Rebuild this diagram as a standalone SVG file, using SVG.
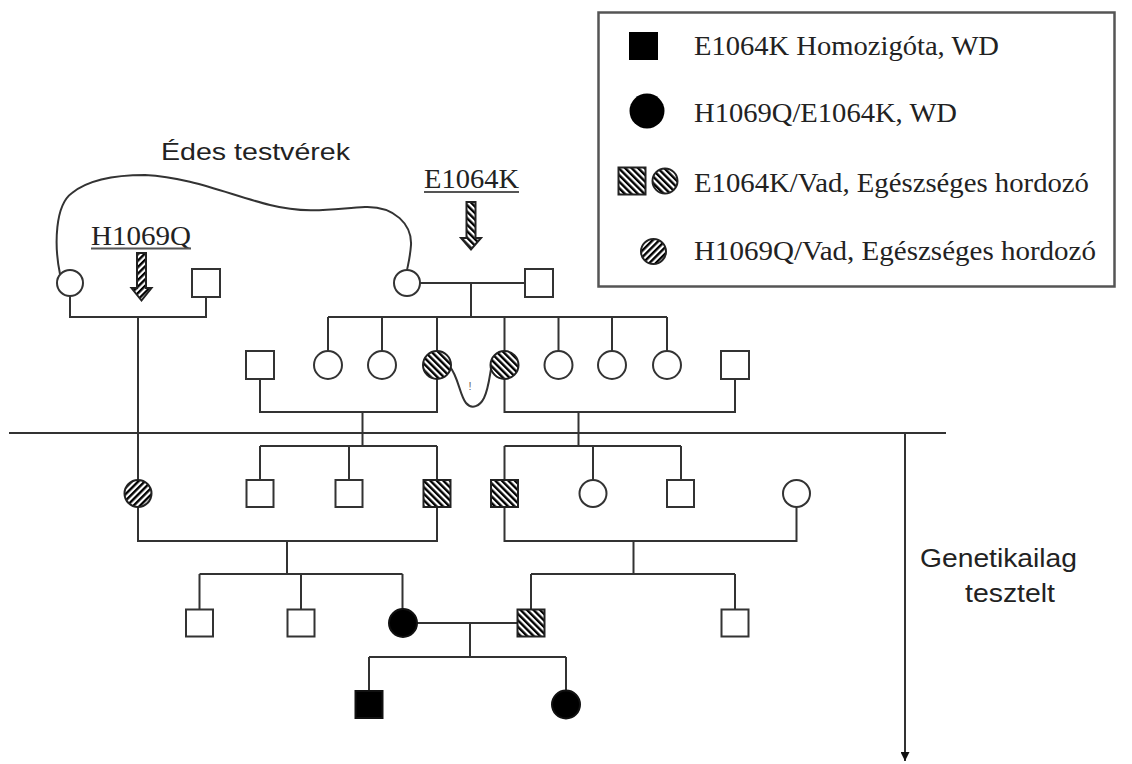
<svg xmlns="http://www.w3.org/2000/svg" width="1132" height="764" viewBox="0 0 1132 764">
<style>
.ln{stroke:#333;stroke-width:2;fill:none}
.sym{stroke:#333;stroke-width:2;fill:#fff}
.blk{stroke:#111;stroke-width:2;fill:#000}
.hb{stroke:#222;stroke-width:2;fill:url(#hb)}
.hf{stroke:#222;stroke-width:2;fill:url(#hf)}
.serif{font-family:"Liberation Serif","Times New Roman",serif;fill:#222}
.sans{font-family:"Liberation Sans",Arial,sans-serif;fill:#222}
.mark{font-family:"Liberation Sans",Arial,sans-serif;fill:#666}
</style>
<defs>
<pattern id="hb" patternUnits="userSpaceOnUse" width="4.6" height="4.6" patternTransform="rotate(-45)">
<rect width="4.6" height="4.6" fill="#fff"/><rect width="2.4" height="4.6" fill="#000"/>
</pattern>
<pattern id="hf" patternUnits="userSpaceOnUse" width="4.6" height="4.6" patternTransform="rotate(45)">
<rect width="4.6" height="4.6" fill="#fff"/><rect width="2.4" height="4.6" fill="#000"/>
</pattern>
<marker id="ah" viewBox="0 0 10 10" refX="10" refY="5" markerWidth="9" markerHeight="9" markerUnits="userSpaceOnUse" orient="auto">
<path d="M0,0 L10,5 L0,10 z" fill="#111"/>
</marker>
</defs>
<rect width="1132" height="764" fill="#fff"/>

<g id="connectors">
<path class="ln" d="M60,274 C54,245 55,205 72,193 C88,180 112,175 145,175 C190,177 230,195 270,205 C310,215 338,208 365,207 C395,206 412,225 411,245 C410,258 408,265 407,270"/>
<path class="ln" d="M70,296 V317 H206 V297"/>
<path class="ln" d="M138,317 V480"/>
<path class="ln" d="M420,283 H525"/>
<path class="ln" d="M471,283 V317"/>
<path class="ln" d="M328,317 H667"/>
<path class="ln" d="M328,317 V351 M382,317 V351 M437,317 V351 M504.5,317 V351 M558.5,317 V351 M612,317 V351 M667,317 V351"/>
<path class="ln" d="M260,379 V412 H437 V379"/>
<path class="ln" d="M362.5,412 V446"/>
<path class="ln" d="M504.5,379 V412 H735 V379"/>
<path class="ln" d="M578.5,412 V446"/>
<path class="ln" stroke-width="1.6" d="M450,367 C458,376 460,396 466,403 C472,410 480,406 484,398 C489,388 490,372 492,364"/>
<path class="ln" d="M9,433 H946"/>
<path class="ln" stroke="#444" d="M905,433 V761" marker-end="url(#ah)"/>
<path class="ln" d="M260,446 H437 M260,446 V480 M349,446 V480 M437,446 V480"/>
<path class="ln" d="M504.5,446 H681 M504.5,446 V480 M593,446 V480 M681,446 V480"/>
<path class="ln" d="M138,507 V541 H437 V507"/>
<path class="ln" d="M287,541 V574"/>
<path class="ln" d="M504.5,507 V541 H796.5 V507"/>
<path class="ln" d="M633.5,541 V574"/>
<path class="ln" d="M199.5,574 H402.5 M199.5,574 V609 M301,574 V609 M402.5,574 V609"/>
<path class="ln" d="M531,574 H735 M531,574 V609 M735,574 V609"/>
<path class="ln" d="M417,623 H517"/>
<path class="ln" d="M470,623 V657"/>
<path class="ln" d="M369,657 H566 M369,657 V691 M566,657 V690"/>
</g>

<g id="n_I1"><circle class="sym" cx="70" cy="283" r="13"/></g>
<g id="n_I2"><rect class="sym" x="192" y="269" width="28" height="28"/></g>
<g id="n_I3"><circle class="sym" cx="407" cy="283" r="13"/></g>
<g id="n_I4"><rect class="sym" x="525" y="269" width="28" height="28"/></g>

<g id="n_II1"><rect class="sym" x="246" y="351" width="28" height="28"/></g>
<g id="n_II2"><circle class="sym" cx="328" cy="365" r="14"/></g>
<g id="n_II3"><circle class="sym" cx="382" cy="365" r="14"/></g>
<g id="n_II4"><circle class="hb" cx="437" cy="365" r="14"/></g>
<g id="n_II5"><circle class="hb" cx="504.5" cy="365" r="14"/></g>
<g id="n_II6"><circle class="sym" cx="558.5" cy="365" r="14"/></g>
<g id="n_II7"><circle class="sym" cx="612" cy="365" r="14"/></g>
<g id="n_II8"><circle class="sym" cx="667" cy="365" r="14"/></g>
<g id="n_II9"><rect class="sym" x="721" y="351" width="28" height="28"/></g>

<g id="n_III1"><circle class="hf" cx="138" cy="493.5" r="13.5"/></g>
<g id="n_III2"><rect class="sym" x="246.5" y="480" width="27" height="27"/></g>
<g id="n_III3"><rect class="sym" x="335.5" y="480" width="27" height="27"/></g>
<g id="n_III4"><rect class="hb" x="423.5" y="480" width="27" height="27"/></g>
<g id="n_III5"><rect class="hb" x="491" y="480" width="27" height="27"/></g>
<g id="n_III6"><circle class="sym" cx="593" cy="493.5" r="13.5"/></g>
<g id="n_III7"><rect class="sym" x="667" y="480" width="27" height="27"/></g>
<g id="n_III8"><circle class="sym" cx="796.5" cy="493.5" r="13.5"/></g>

<g id="n_IV1"><rect class="sym" x="186" y="609.5" width="27" height="27"/></g>
<g id="n_IV2"><rect class="sym" x="287.5" y="609.5" width="27" height="27"/></g>
<g id="n_IV3"><circle class="blk" cx="403" cy="623" r="14"/></g>
<g id="n_IV4"><rect class="hb" x="517.5" y="609.5" width="27" height="27"/></g>
<g id="n_IV5"><rect class="sym" x="721.5" y="609.5" width="27" height="27"/></g>

<g id="n_V1"><rect class="blk" x="355.5" y="691" width="27" height="27"/></g>
<g id="n_V2"><circle class="blk" cx="566" cy="704.5" r="14"/></g>

<g id="lbl_H1069Q">
<text class="serif" x="91" y="245" font-size="28" textLength="100" lengthAdjust="spacingAndGlyphs">H1069Q</text>
<line x1="91" y1="248.5" x2="191" y2="248.5" stroke="#555" stroke-width="2"/>
<path class="hf" stroke-width="1.6" d="M137,253 H146 V288 H151.5 L141.5,300.5 L131.5,288 H137 Z"/>
</g>
<g id="lbl_E1064K">
<text class="serif" x="424" y="188" font-size="28" textLength="95" lengthAdjust="spacingAndGlyphs">E1064K</text>
<line x1="424" y1="192" x2="519" y2="192" stroke="#555" stroke-width="2"/>
<path class="hb" stroke-width="1.6" d="M466.5,202 H475.5 V238 H481 L471,249.5 L461,238 H466.5 Z"/>
</g>
<g id="lbl_sibs">
<text class="sans" x="161" y="160" font-size="24" textLength="189" lengthAdjust="spacingAndGlyphs">Édes testvérek</text>
</g>
<g id="lbl_mark">
<text class="mark" x="470" y="390" font-size="11" text-anchor="middle">!</text>
</g>
<g id="lbl_tested">
<text class="sans" x="920" y="567" font-size="25" textLength="157" lengthAdjust="spacingAndGlyphs">Genetikailag</text>
<text class="sans" x="965" y="602" font-size="25" textLength="90" lengthAdjust="spacingAndGlyphs">tesztelt</text>
</g>

<g id="legend">
<rect x="598.5" y="12.5" width="516" height="274" fill="#fff" stroke="#555" stroke-width="2.5"/>
<rect x="629" y="32" width="29" height="28" fill="#000"/>
<text class="serif" x="694" y="55" font-size="27" textLength="305" lengthAdjust="spacingAndGlyphs">E1064K Homozigóta, WD</text>
<circle cx="647" cy="111" r="17.5" fill="#000"/>
<text class="serif" x="694" y="122" font-size="27" textLength="263" lengthAdjust="spacingAndGlyphs">H1069Q/E1064K, WD</text>
<rect class="hb" x="618.5" y="167.5" width="27" height="27" stroke-width="1.5"/>
<circle class="hb" cx="665" cy="181" r="12.5" stroke-width="1.5"/>
<text class="serif" x="694" y="192" font-size="27" textLength="395" lengthAdjust="spacingAndGlyphs">E1064K/Vad, Egészséges hordozó</text>
<circle class="hf" cx="653.5" cy="251.5" r="12.5" stroke-width="1.5"/>
<text class="serif" x="694" y="260" font-size="27" textLength="402" lengthAdjust="spacingAndGlyphs">H1069Q/Vad, Egészséges hordozó</text>
</g>
</svg>
